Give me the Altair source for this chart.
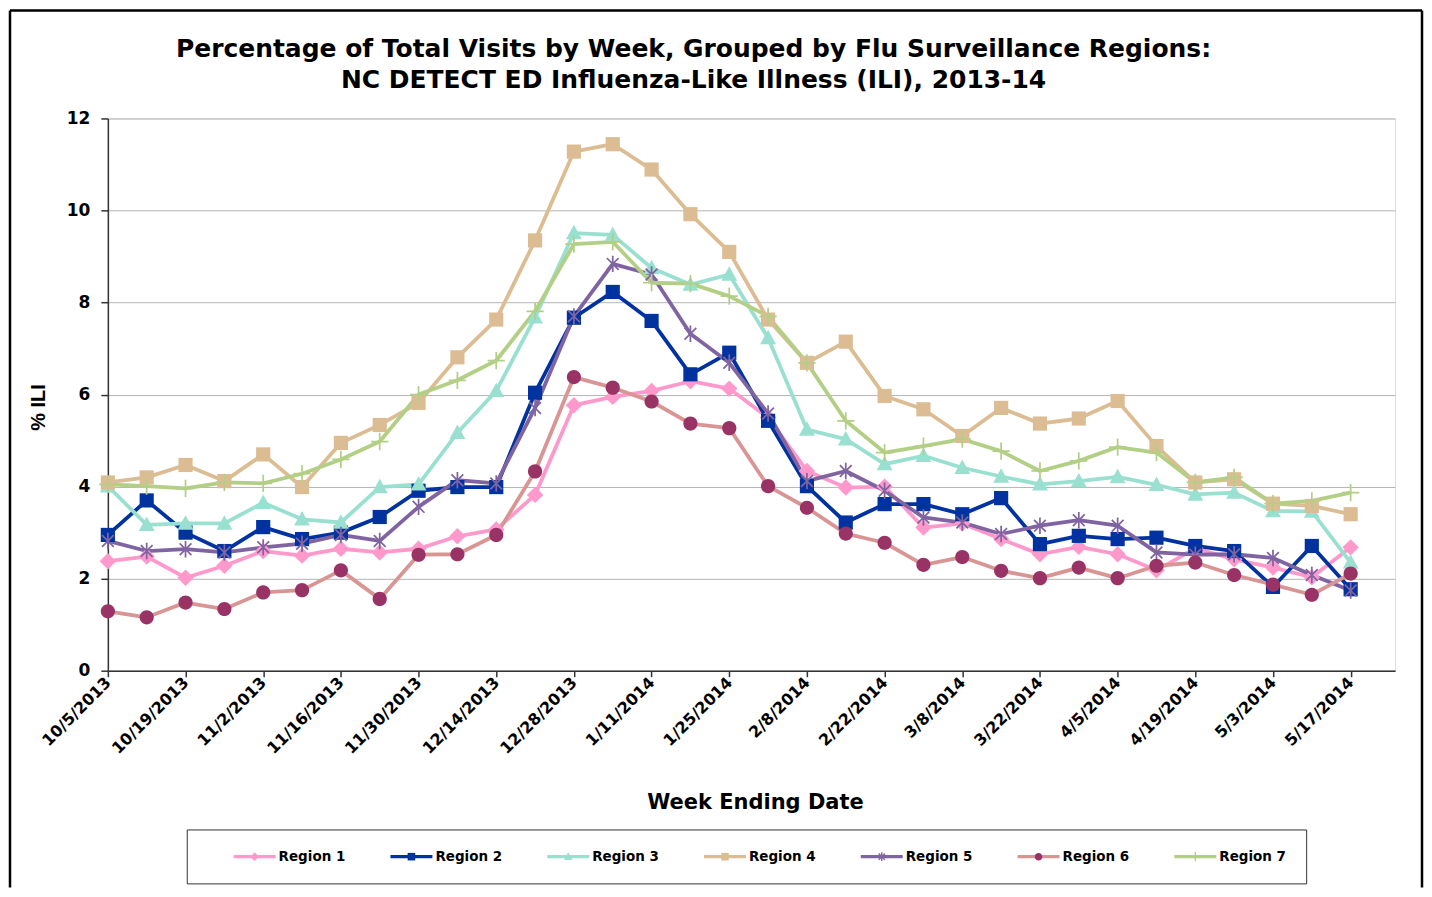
import altair as alt
import pandas as pd
from datetime import datetime, timezone

# ---------------- data ----------------
weeks = ["2013-10-05", "2013-10-12", "2013-10-19", "2013-10-26", "2013-11-02", "2013-11-09",
         "2013-11-16", "2013-11-23", "2013-11-30", "2013-12-07", "2013-12-14", "2013-12-21",
         "2013-12-28", "2014-01-04", "2014-01-11", "2014-01-18", "2014-01-25", "2014-02-01",
         "2014-02-08", "2014-02-15", "2014-02-22", "2014-03-01", "2014-03-08", "2014-03-15",
         "2014-03-22", "2014-03-29", "2014-04-05", "2014-04-12", "2014-04-19", "2014-04-26",
         "2014-05-03", "2014-05-10", "2014-05-17"]
axis_end = "2014-05-25"

regions = ["Region 1", "Region 2", "Region 3", "Region 4", "Region 5", "Region 6", "Region 7"]

region1 = [2.38, 2.48, 2.02, 2.28, 2.60, 2.50, 2.65, 2.57, 2.65, 2.92, 3.07, 3.82, 5.77, 5.95, 6.08, 6.29, 6.13,
           5.50, 4.34, 3.98, 4.00, 3.11, 3.20, 2.86, 2.53, 2.69, 2.53, 2.18, 2.66, 2.42, 2.24, 2.03, 2.68]
region2 = [2.95, 3.70, 3.00, 2.60, 3.12, 2.86, 3.00, 3.34, 3.91, 3.99, 3.99, 6.04, 7.67, 8.23, 7.60, 6.44, 6.91,
           5.43, 4.01, 3.22, 3.62, 3.62, 3.40, 3.75, 2.75, 2.93, 2.86, 2.89, 2.71, 2.60, 1.82, 2.71, 1.77]
region3 = [4.01, 3.17, 3.20, 3.20, 3.65, 3.29, 3.22, 3.99, 4.05, 5.17, 6.08, 7.68, 9.51, 9.47, 8.75, 8.39, 8.61,
           7.23, 5.24, 5.03, 4.49, 4.67, 4.41, 4.22, 4.05, 4.12, 4.21, 4.04, 3.83, 3.87, 3.47, 3.46, 2.35]
region4 = [4.09, 4.20, 4.47, 4.12, 4.70, 3.99, 4.95, 5.34, 5.82, 6.81, 7.63, 9.35, 11.28, 11.44, 10.89, 9.92, 9.10,
           7.63, 6.69, 7.15, 5.97, 5.68, 5.10, 5.71, 5.37, 5.48, 5.86, 4.88, 4.09, 4.16, 3.63, 3.58, 3.40]
region5 = [2.82, 2.60, 2.64, 2.57, 2.68, 2.76, 2.95, 2.82, 3.56, 4.14, 4.07, 5.71, 7.70, 8.84, 8.61, 7.32, 6.69,
           5.59, 4.12, 4.34, 3.91, 3.33, 3.22, 2.97, 3.15, 3.27, 3.15, 2.57, 2.52, 2.53, 2.45, 2.08, 1.74]
region6 = [1.29, 1.16, 1.48, 1.34, 1.70, 1.75, 2.18, 1.56, 2.52, 2.53, 2.95, 4.33, 6.38, 6.15, 5.85, 5.37, 5.27,
           4.01, 3.54, 2.98, 2.78, 2.30, 2.47, 2.17, 2.01, 2.24, 2.01, 2.28, 2.35, 2.08, 1.87, 1.65, 2.11]
region7 = [4.05, 4.01, 3.96, 4.09, 4.07, 4.28, 4.59, 4.98, 6.00, 6.31, 6.74, 7.81, 9.27, 9.32, 8.43, 8.41, 8.14,
           7.70, 6.69, 5.43, 4.74, 4.88, 5.03, 4.77, 4.34, 4.56, 4.86, 4.74, 4.09, 4.20, 3.63, 3.69, 3.87]

series = [region1, region2, region3, region4, region5, region6, region7]

y_ticks = [0, 2, 4, 6, 8, 10, 12]

title_lines = ["Percentage of Total Visits by Week, Grouped by Flu Surveillance Regions:",
               "NC DETECT ED Influenza-Like Illness (ILI), 2013-14"]

# ---------------- styles ----------------
line_colors = ["#FF99CC", "#0033A0", "#99E0D0", "#DCBD93", "#8064A2", "#D99594", "#B3CF86"]
marker_colors = ["#FF99CC", "#0033A0", "#99E0D0", "#DCBD93", "#8064A2", "#993366", "#B3CF86"]


def rect(x0, y0, x1, y1):
    return f"M{x0:.3f},{y0:.3f}H{x1:.3f}V{y1:.3f}H{x0:.3f}Z"


def diag_bars(a, t, cx):
    d = t / 2 ** 0.5
    p1 = (f"M{cx - a + d:.3f},{-a - d:.3f}L{cx + a + d:.3f},{a - d:.3f}"
          f"L{cx + a - d:.3f},{a + d:.3f}L{cx - a - d:.3f},{-a + d:.3f}Z")
    p2 = (f"M{cx + a + d:.3f},{-a + d:.3f}L{cx - a + d:.3f},{a + d:.3f}"
          f"L{cx - a - d:.3f},{a - d:.3f}L{cx + a - d:.3f},{-a - d:.3f}Z")
    return p1 + p2


def circle(r, cx):
    return (f"M{cx - r:.3f},0A{r:.3f},{r:.3f},0,1,0,{cx + r:.3f},0"
            f"A{r:.3f},{r:.3f},0,1,0,{cx - r:.3f},0Z")


def marker_paths(s, t, cx=0.0):
    diamond = f"M{cx:.3f},{-0.95 * s:.3f}L{cx + 0.95 * s:.3f},0L{cx:.3f},{0.95 * s:.3f}L{cx - 0.95 * s:.3f},0Z"
    square = rect(cx - 0.82 * s, -0.82 * s, cx + 0.82 * s, 0.82 * s)
    tri = f"M{cx:.3f},{-0.95 * s:.3f}L{cx + 0.92 * s:.3f},{0.72 * s:.3f}H{cx - 0.92 * s:.3f}Z"
    aster = rect(cx - t, -0.95 * s, cx + t, 0.95 * s) + diag_bars(0.68 * s, t, cx)
    circ = circle(0.82 * s, cx)
    plus = rect(cx - 1.0 * s, -t, cx + 1.0 * s, t) + rect(cx - t, -1.0 * s, cx + t, 1.0 * s)
    return [diamond, square, tri, square, aster, circ, plus]


chart_shapes = marker_paths(1.0, 0.1)
# legend symbols: unit = 7px; a 42px line from -1 to 5 with the marker at its middle (x = 2)
legend_shapes = marker_paths(0.66, 0.1, cx=2.0)
legend_line = rect(-1, -0.225, 5, 0.225)

FONT = "DejaVu Sans"

# ---------------- table ----------------
rows = []
for reg, vals in zip(regions, series):
    for w, v in zip(weeks, vals):
        rows.append({"Region": reg, "week": w, "ili": v})
df = pd.DataFrame(rows)


def ms(d):
    return int(datetime.strptime(d, "%Y-%m-%d").replace(tzinfo=timezone.utc).timestamp() * 1000)


tick_vals = [ms(w) for w in weeks[::2]]
x_domain = [ms(weeks[0]), ms(axis_end)]

x_enc = alt.X(
    "week:T",
    scale=alt.Scale(type="utc", domain=x_domain),
    axis=alt.Axis(
        values=tick_vals,
        labelExpr="utcFormat(datum.value, '%-m/%-d/%Y')",
        labelAngle=315, labelAlign="right", labelBaseline="middle",
        labelFont=FONT, labelFontSize=16, labelFontWeight="bold", labelColor="black",
        labelPadding=3, labelOverlap=False, labelFlush=False,
        tickSize=6, tickColor="#333333", tickWidth=1.5,
        domainColor="#333333", domainWidth=1.5, grid=False,
        title="Week Ending Date", titleFont=FONT, titleFontSize=21, titleFontWeight="bold",
        titleColor="black", titleX=648, titleY=132, titleAlign="center", titleBaseline="middle",
    ),
)
y_enc = alt.Y(
    "ili:Q",
    scale=alt.Scale(domain=[0, 12]),
    axis=alt.Axis(
        values=y_ticks, format="d",
        labelFont=FONT, labelFontSize=17, labelFontWeight="bold", labelColor="black",
        labelPadding=11, tickSize=7, tickColor="#333333", tickWidth=1.5,
        domainColor="#333333", domainWidth=1.5,
        grid=True, gridColor="#B4B4B4", gridWidth=1,
        title="% ILI", titleFont="Liberation Sans", titleFontSize=20, titleFontWeight="bold",
        titleColor="black", titleAngle=270, titleX=-69, titleY=289,
        titleAlign="center", titleBaseline="middle",
    ),
)

base = alt.Chart(df)

lines = base.mark_line(strokeWidth=3.8, strokeJoin="round").encode(
    x=x_enc, y=y_enc,
    color=alt.Color("Region:N", scale=alt.Scale(domain=regions, range=line_colors), legend=None),
)

points = base.mark_point(filled=True, opacity=1, size=300, strokeWidth=0).encode(
    x=x_enc, y=y_enc,
    fill=alt.Fill("Region:N", scale=alt.Scale(domain=regions, range=marker_colors), legend=None),
    shape=alt.Shape("Region:N", scale=alt.Scale(domain=regions, range=chart_shapes), legend=None),
)

legend_common = dict(
    orient="none", legendX=79, legendY=712, direction="horizontal", columns=7,
    columnPadding=45, symbolSize=196, symbolStrokeWidth=0, symbolOpacity=1,
    labelFont=FONT, labelFontSize=13.5, labelFontWeight="bold", labelColor="black",
    labelOffset=31, padding=20, title="\u00a0", titleOrient="left", titleFontSize=1,
    titlePadding=27,
)

legend_lines_layer = base.transform_filter("datum.ili < 0").mark_point(
    filled=True, opacity=1, shape=legend_line
).encode(
    fill=alt.Fill("Region:N", scale=alt.Scale(domain=regions, range=line_colors),
                  legend=alt.Legend(symbolType=legend_line, strokeColor="#333333",
                                    **legend_common)),
)

legend_markers_layer = base.transform_filter("datum.ili < 0").mark_point(
    filled=True, opacity=1
).encode(
    fill=alt.Fill("Region:N", scale=alt.Scale(domain=regions, range=marker_colors),
                  legend=alt.Legend(labelOpacity=0, **legend_common)),
    shape=alt.Shape("Region:N", scale=alt.Scale(domain=regions, range=legend_shapes),
                    legend=alt.Legend(labelOpacity=0, **legend_common)),
)

frame_data = alt.Data(values=[{"frame": 1}])
frame_left = alt.Chart(frame_data).mark_rule(color="black", strokeWidth=2.5).encode(
    x=alt.value(-98), y=alt.value(-108), y2=alt.value(770))
frame_top = alt.Chart(frame_data).mark_rule(color="black", strokeWidth=2.5).encode(
    x=alt.value(-98), x2=alt.value(1316), y=alt.value(-108))
frame_right = alt.Chart(frame_data).mark_rule(color="black", strokeWidth=2.5).encode(
    x=alt.value(1316), y=alt.value(-108), y2=alt.value(770))

chart = alt.layer(
    lines, points, legend_lines_layer, legend_markers_layer, frame_left, frame_top, frame_right
).resolve_scale(
    fill="independent", shape="independent"
).properties(
    width=1289, height=553, padding=0,
    title=alt.TitleParams(
        text=title_lines, anchor="middle", dx=-58, offset=-84,
        font=FONT, fontSize=25, fontWeight="bold", color="black", lineHeight=31,
    ),
).configure_view(
    stroke="#8C8C8C", strokeWidth=1.5
).configure(
    background="white"
)

chart.save("out.html", embed_options={"renderer": "svg", "actions": False})
